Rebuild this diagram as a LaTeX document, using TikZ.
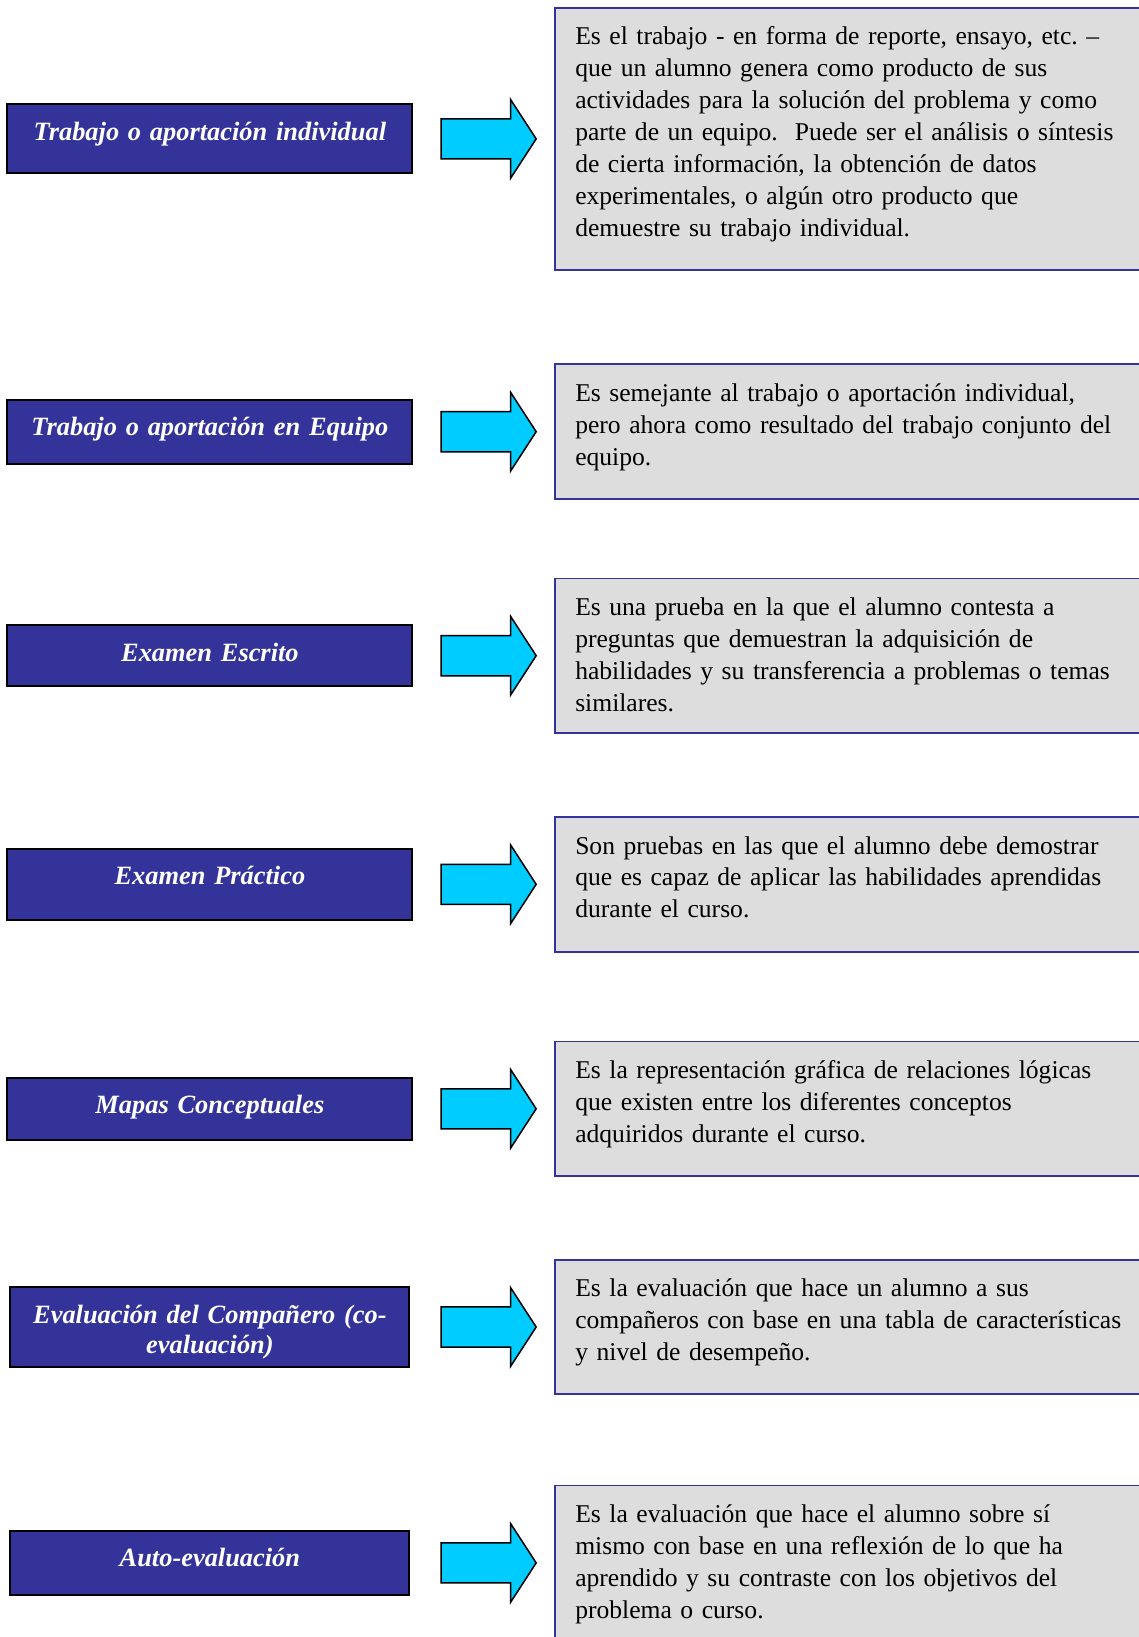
\documentclass[tikz,border=0pt]{standalone}
\usepackage{fontspec}
\setmainfont{Liberation Serif}
\usetikzlibrary{shapes.arrows,positioning}
\definecolor{catblue}{HTML}{333399}
\definecolor{arrowcyan}{HTML}{00CCFF}
\definecolor{descgray}{HTML}{DDDDDD}
\frenchspacing
\tikzset{
    cat/.style={draw=black, line width=2pt, fill=catblue, text=white, align=center,
        font=\fontsize{26.4}{30}\selectfont\bfseries\itshape,
        text width=380pt, inner xsep=12.5pt, inner ysep=10pt, text height=26pt},
    bigarrow/.style={single arrow, draw=black, line width=1.5pt, fill=arrowcyan,
        minimum height=95pt, minimum width=77pt, inner xsep=0pt, inner ysep=19.3pt,
        single arrow head extend=19.3pt, single arrow tip angle=114},
    desc/.style={draw=catblue, line width=1.8pt, fill=descgray, align=left,
        font=\fontsize{25.6}{31.9}\selectfont,
        text width=566pt, inner xsep=20.5pt, inner ysep=10pt, text height=27pt}
}
\begin{document}
\begin{tikzpicture}[x=1pt,y=-1pt]
    \useasboundingbox (0,0) rectangle (1139,1637);
    \node[cat, text depth=23pt] (c1) at (209.9,138.9) {Trabajo o aportación individual};
    \node[cat, text depth=17.6pt] (c2) at (209.9,431.7) {Trabajo o aportación en Equipo};
    \node[cat, text depth=14.6pt] (c3) at (209.9,655.7) {Examen Escrito};
    \node[cat, text depth=25pt] (c4) at (209.9,884.3) {Examen Práctico};
    \node[cat, text depth=16.6pt] (c5) at (209.9,1108.8) {Mapas Conceptuales};
    \node[cat, text depth=33.4pt, text width=374pt] (c6) at (209.9,1327) {Evaluación del Compañero (co-\\evaluación)};
    \node[cat, text depth=18.7pt, text width=374pt] (c7) at (209.9,1562.9) {Auto-evaluación};

    \node[bigarrow, right=27pt of c1] (a1) {};
    \node[bigarrow, right=27pt of c2] (a2) {};
    \node[bigarrow, right=27pt of c3] (a3) {};
    \node[bigarrow, right=27pt of c4] (a4) {};
    \node[bigarrow, right=27pt of c5] (a5) {};
    \node[bigarrow, right=30pt of c6] (a6) {};
    \node[bigarrow, right=30pt of c7] (a7) {};

    \node[desc, text depth=215pt, right=16.8pt of a1] (d1) {Es el trabajo - en forma de reporte, ensayo, etc. –\\
        que un alumno genera como producto de sus\\
        actividades para la solución del problema y como\\
        parte de un equipo.\ \ Puede ser el análisis o síntesis\\
        de cierta información, la obtención de datos\\
        experimentales, o algún otro producto que\\
        demuestre su trabajo individual.};
    \node[desc, text depth=87.8pt, right=16.8pt of a2] (d2) {Es semejante al trabajo o aportación individual,\\
        pero ahora como resultado del trabajo conjunto del\\
        equipo.};
    \node[desc, text depth=107.5pt, right=16.8pt of a3] (d3) {Es una prueba en la que el alumno contesta a\\
        preguntas que demuestran la adquisición de\\
        habilidades y su transferencia a problemas o temas\\
        similares.};
    \node[desc, text depth=87.6pt, right=16.8pt of a4] (d4) {Son pruebas en las que el alumno debe demostrar\\
        que es capaz de aplicar las habilidades aprendidas\\
        durante el curso.};
    \node[desc, text depth=87.7pt, right=16.8pt of a5] (d5) {Es la representación gráfica de relaciones lógicas\\
        que existen entre los diferentes conceptos\\
        adquiridos durante el curso.};
    \node[desc, text depth=87.7pt, right=16.8pt of a6] (d6) {Es la evaluación que hace un alumno a sus\\
        compañeros con base en una tabla de características\\
        y nivel de desempeño.};
    \node[desc, text depth=108pt, right=16.8pt of a7] (d7) {Es la evaluación que hace el alumno sobre sí\\
        mismo con base en una reflexión de lo que ha\\
        aprendido y su contraste con los objetivos del\\
        problema o curso.};
\end{tikzpicture}
\end{document}
